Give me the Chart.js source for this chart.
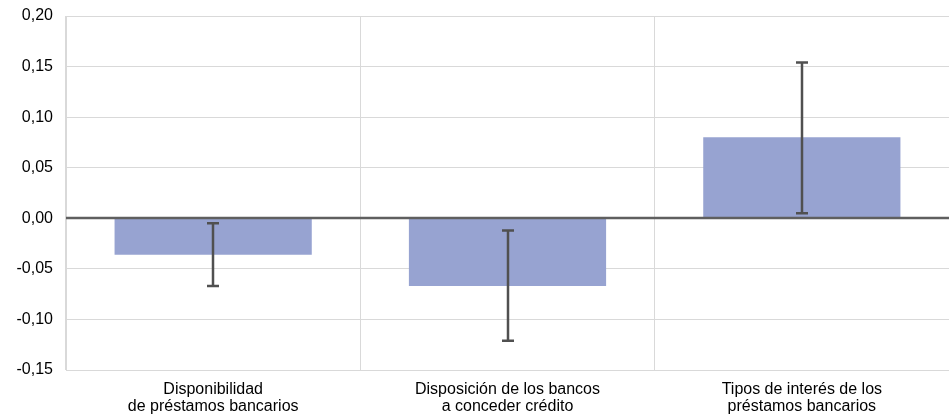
<!DOCTYPE html>
<html>
<head>
<meta charset="utf-8">
<script src="https://cdn.jsdelivr.net/npm/chart.js@4"></script>
<style>
  html, body { margin: 0; padding: 0; background: #fff; }
  #wrap { width: 949px; height: 417px; }
</style>
</head>
<body>
<div id="wrap"><canvas id="myChart"></canvas></div>
<script>
// Data
const categories = [
  ['Disponibilidad', 'de préstamos bancarios'],
  ['Disposición de los bancos', 'a conceder crédito'],
  ['Tipos de interés de los', 'préstamos bancarios']
];
const values = [-0.036, -0.067, 0.080];
const errLow = [-0.067, -0.121, 0.005];
const errHigh = [-0.005, -0.012, 0.154];

const yMin = -0.15;
const yMax = 0.20;
const yStep = 0.05;

const FONT = { family: '"Liberation Sans", Arial, sans-serif', size: 16, lineHeight: 1.07 };

// draws the error bars and the zero line on top of the bars
const errorBars = {
  id: 'errorBars',
  afterDatasetsDraw(chart) {
    const ctx = chart.ctx;
    const y = chart.scales.y;
    const area = chart.chartArea;
    const meta = chart.getDatasetMeta(0);

    ctx.save();
    // zero line
    const y0 = Math.round(y.getPixelForValue(0));
    ctx.strokeStyle = '#5f5f5f';
    ctx.lineWidth = 2.5;
    ctx.beginPath();
    ctx.moveTo(area.left, y0);
    ctx.lineTo(area.right, y0);
    ctx.stroke();

    ctx.strokeStyle = '#505050';
    ctx.lineWidth = 2.5;
    meta.data.forEach((bar, i) => {
      const x = Math.round(bar.x);
      const top = y.getPixelForValue(errHigh[i]);
      const bot = y.getPixelForValue(errLow[i]);
      ctx.beginPath();
      ctx.moveTo(x, top);
      ctx.lineTo(x, bot);
      ctx.moveTo(x - 6, top);
      ctx.lineTo(x + 6, top);
      ctx.moveTo(x - 6, bot);
      ctx.lineTo(x + 6, bot);
      ctx.stroke();
    });
    ctx.restore();
  }
};

new Chart(document.getElementById('myChart'), {
  type: 'bar',
  data: {
    labels: categories,
    datasets: [{
      data: values,
      backgroundColor: '#97a3d1',
      borderWidth: 0,
      categoryPercentage: 1,
      barPercentage: 0.67
    }]
  },
  options: {
    responsive: true,
    maintainAspectRatio: false,
    animation: false,
    layout: { padding: { top: 16, right: 0, bottom: 0, left: 0 } },
    plugins: {
      legend: { display: false },
      tooltip: { enabled: false }
    },
    scales: {
      x: {
        grid: { color: '#d9d9d9', drawTicks: false, offset: true },
        border: { color: '#d9d9d9' },
        ticks: { color: '#000', font: FONT, padding: 11, maxRotation: 0 },
        afterFit(scale) { scale.height = 47; scale.paddingLeft = 0; scale.paddingRight = 0; }
      },
      y: {
        min: yMin,
        max: yMax,
        grid: { color: '#d9d9d9', drawTicks: false },
        border: { color: '#d9d9d9' },
        ticks: {
          stepSize: yStep,
          color: '#000',
          font: FONT,
          padding: 13,
          callback: (v) => v.toFixed(2).replace('.', ',')
        },
        afterFit(scale) { scale.width = 66; scale.paddingTop = 0; scale.paddingBottom = 0; }
      }
    }
  },
  plugins: [errorBars]
});
</script>
</body>
</html>
